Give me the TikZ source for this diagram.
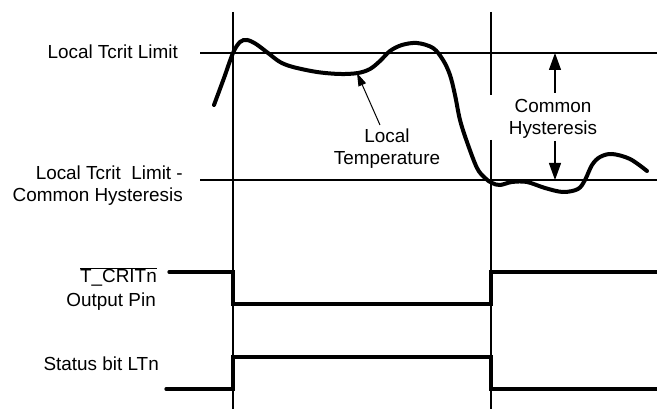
\documentclass[tikz,border=0pt]{standalone}
\usepackage{fontspec}
\setmainfont{Liberation Sans}
\usetikzlibrary{arrows.meta}
\begin{document}
\begin{tikzpicture}[x=1pt,y=-1pt,
  thin line/.style={line width=1.2pt},
  signal/.style={line width=3.3pt,line cap=round,line join=miter},
  temp curve/.style={line width=4pt,line cap=round},
  lbl/.style={inner sep=0pt,font=\fontsize{18.9}{22}\selectfont},
  harrow/.style={line width=1.2pt,-{Triangle[length=17pt,width=12pt]}},
  larrow/.style={line width=1pt,-{Triangle[length=13pt,width=8pt]}}]
\useasboundingbox (0,0) rectangle (657,411);
% reference lines
\coordinate (v1t) at (233,12);
\coordinate (v1b) at (233,409);
\coordinate (v2t) at (491,12);
\coordinate (v2m1) at (491,95);
\coordinate (v2m2) at (491,140);
\coordinate (v2b) at (491,409);
\coordinate (hTl) at (200,53);
\coordinate (hTr) at (657,53);
\coordinate (hBl) at (200,180);
\coordinate (hBr) at (657,180);
\draw[thin line] (v1t) -- (v1b);
\draw[thin line] (v2t) -- (v2m1);
\draw[thin line] (v2m2) -- (v2b);
\draw[thin line] (hTl) -- (hTr);
\draw[thin line] (hBl) -- (hBr);
% labels
\node[lbl,anchor=base east] (lim) at (178,59) {Local Tcrit Limit};
\node[lbl,anchor=base east] (lim2a) at (183,180) {Local Tcrit\ \ Limit -};
\node[lbl,anchor=base east] (lim2b) at (183,202) {Common Hysteresis};
\node[lbl,anchor=base] (lt1) at (387,143) {Local};
\node[lbl,anchor=base] (lt2) at (387,165) {Temperature};
\node[lbl,anchor=base] (ch1) at (553,113) {Common};
\node[lbl,anchor=base] (ch2) at (553,135) {Hysteresis};
\node[lbl,anchor=base east] (tc1) at (157,283) {$\overline{\mbox{T\_CRITn}}$};
\node[lbl,anchor=base east] (tc2) at (156,307) {Output Pin};
\node[lbl,anchor=base east] (st) at (159,371) {Status bit LTn};
% temperature curve
\draw[temp curve] plot[smooth,tension=0.55] coordinates {
 (214,105) (224,78) (233,53) (240,42) (247,40) (256,44) (268,53) (280,62)
 (293,67) (317,72) (340,74) (358,73) (370,69) (380,61) (390,51) (402,45)
 (417,43) (433,48) (443,60) (450,75) (455,95) (460,120) (467,142) (477,168)
 (485,178) (492,183) (500,185) (512,182) (527,182) (545,188) (563,192)
 (578,189) (585,180) (592,165) (600,157) (612,154) (630,159) (647,171)};
% arrows
\coordinate (ltTail) at (380,125);
\coordinate (ltTip) at (357,73);
\draw[larrow] (ltTail) -- (ltTip);
\coordinate (chUt) at (555,93);
\coordinate (chUh) at (555,53);
\coordinate (chLt) at (555,141);
\coordinate (chLh) at (555,180);
\draw[harrow] (chUt) -- (chUh);
\draw[harrow] (chLt) -- (chLh);
% signals
\coordinate (a0) at (169,272);
\coordinate (a1) at (233,272);
\coordinate (a2) at (233,304);
\coordinate (a3) at (491,304);
\coordinate (a4) at (491,272);
\coordinate (a5) at (660,272);
\draw[signal] (a0) -- (a1) -- (a2) -- (a3) -- (a4) -- (a5);
\coordinate (b0) at (166,389);
\coordinate (b1) at (233,389);
\coordinate (b2) at (233,357);
\coordinate (b3) at (491,357);
\coordinate (b4) at (491,389);
\coordinate (b5) at (660,389);
\draw[signal] (b0) -- (b1) -- (b2) -- (b3) -- (b4) -- (b5);
\end{tikzpicture}
\end{document}
